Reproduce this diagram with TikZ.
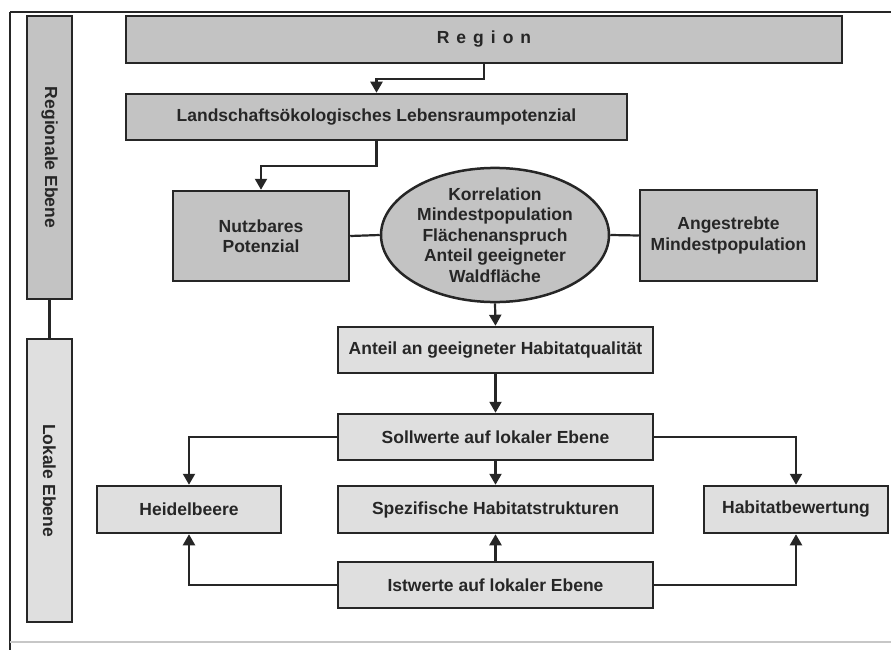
\documentclass[tikz,border=0pt]{standalone}
\usepackage{fontspec}
\setmainfont{Liberation Sans}
\usetikzlibrary{shapes.geometric,arrows.meta}
\definecolor{dunkel}{HTML}{C3C3C3}
\definecolor{hell}{HTML}{DFDFDF}
\definecolor{rand}{HTML}{262626}
\definecolor{schrift}{HTML}{262626}
\begin{document}
\begin{tikzpicture}[x=1pt,y=-1pt,
    box/.style={draw=rand, line width=2.5pt, text=schrift, align=center, inner sep=0pt,
      font=\fontsize{17.5}{20.5}\selectfont\bfseries},
    regbox/.style={box, fill=dunkel},
    lokbox/.style={box, fill=hell},
    pfeil/.style={draw=rand, line width=2.2pt, -{Triangle[width=12pt,length=11pt]}},
    linie/.style={draw=rand, line width=2.2pt}]
    \useasboundingbox (0,0) rectangle (891,650);

    % Rahmen
    \draw[rand, line width=1.8pt] (10,12) -- (891,12);
    \draw[rand, line width=1.8pt] (10,12) -- (10,650);
    \draw[black!22, line width=1.6pt] (10,642) -- (891,642);

    % Ebenen links
    \node[regbox, minimum width=45pt, minimum height=283pt] (regional) at (49.5,157.5) {\rotatebox{-90}{Regionale Ebene}};
    \node[lokbox, minimum width=45pt, minimum height=283pt] (lokal) at (49.5,480.5) {\rotatebox{-90}{Lokale Ebene}};
    \draw[linie] (regional.south) -- (lokal.north);

    % regionale Ebene
    \node[regbox, minimum width=716pt, minimum height=47pt] (region) at (484,39.5)
        {R\hspace{7pt}e\hspace{7pt}g\hspace{7pt}i\hspace{7pt}o\hspace{7pt}n};
    \node[regbox, minimum width=501pt, minimum height=46pt] (landschaft) at (376.5,117)
        {Landschaftsökologisches Lebensraumpotenzial};
    \node[regbox, minimum width=176pt, minimum height=90pt] (nutzbar) at (261,236)
        {Nutzbares\\Potenzial};
    \node[regbox, ellipse, minimum width=228pt, minimum height=126pt] (korrelation) at (495,235)
        {Korrelation\\Mindestpopulation\\Flächenanspruch\\Anteil geeigneter\\Waldfläche};
    \node[regbox, minimum width=177pt, minimum height=91pt] (angestrebt) at (728.5,235.5)
        {Angestrebte\\Mindestpopulation};

    % lokale Ebene
    \node[lokbox, minimum width=315pt, minimum height=46pt] (anteil) at (495.5,350)
        {Anteil an geeigneter Habitatqualität};
    \node[lokbox, minimum width=315pt, minimum height=46pt] (soll) at (495.5,437)
        {Sollwerte auf lokaler Ebene};
    \node[lokbox, minimum width=184pt, minimum height=47pt] (heidel) at (189,509.5)
        {Heidelbeere};
    \node[lokbox, minimum width=315pt, minimum height=47pt] (struktur) at (495.5,509.5)
        {Spezifische Habitatstrukturen};
    \node[lokbox, minimum width=184pt, minimum height=47pt] (bewertung) at (796,509.5)
        {Habitatbewertung};
    \node[lokbox, minimum width=315pt, minimum height=46pt] (ist) at (495.5,585)
        {Istwerte auf lokaler Ebene};

    % Verbindungen
    \draw[pfeil] (region.south) -- ++(0,15) -| (landschaft.north);
    \draw[pfeil] (landschaft.south) -- ++(0,25) -| (nutzbar.north);
    \draw[linie] (nutzbar.east) -- (korrelation.west);
    \draw[linie] (korrelation.east) -- (angestrebt.west);
    \draw[pfeil] (korrelation.south) -- (anteil.north);
    \draw[pfeil] (anteil.south) -- (soll.north);
    \draw[pfeil] (soll.south) -- (struktur.north);
    \draw[pfeil] (soll.west) -| (heidel.north);
    \draw[pfeil] (soll.east) -| (bewertung.north);
    \draw[pfeil] (ist.north) -- (struktur.south);
    \draw[pfeil] (ist.west) -| (heidel.south);
    \draw[pfeil] (ist.east) -| (bewertung.south);
\end{tikzpicture}
\end{document}
